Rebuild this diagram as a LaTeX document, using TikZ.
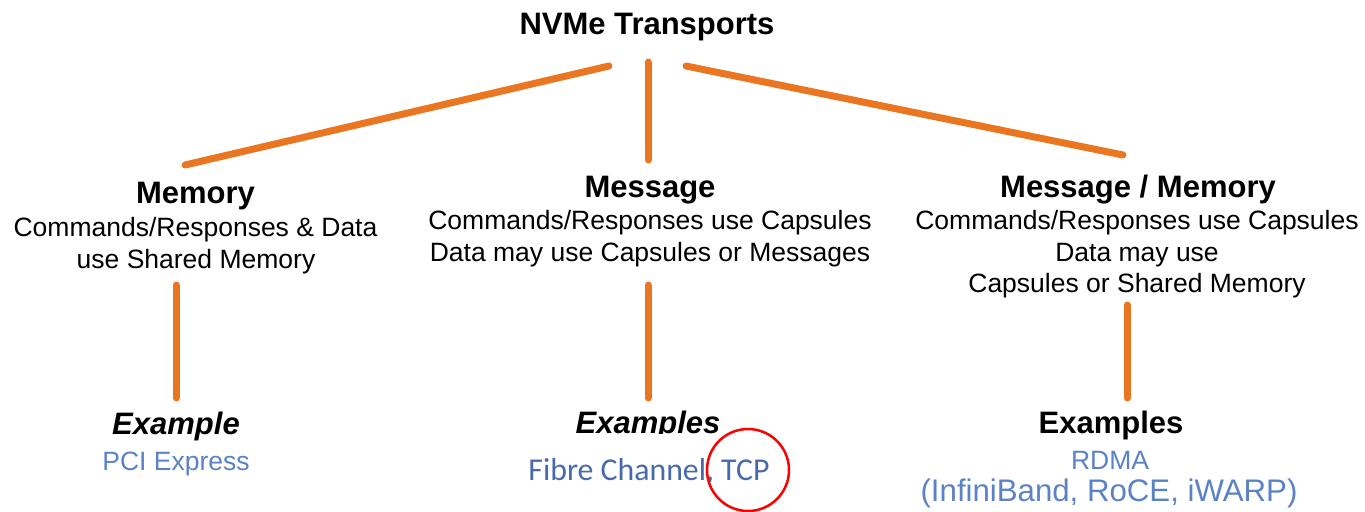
\documentclass[tikz,border=0pt]{standalone}
\usepackage{fontspec}
\setmainfont{Liberation Sans}
\newfontfamily\calib{Carlito}
\definecolor{lineorange}{RGB}{235,118,34}
\definecolor{exblue}{RGB}{91,130,196}
\definecolor{fcblue}{RGB}{72,106,172}
\begin{document}
\begin{tikzpicture}[x=0.5pt,y=-0.5pt,
  every node/.style={inner sep=0pt,anchor=base},
  head/.style={font=\fontsize{15.5pt}{18pt}\selectfont\bfseries},
  body/.style={font=\fontsize{13.25pt}{16pt}\selectfont},
  exhead/.style={font=\fontsize{15.5pt}{18pt}\selectfont\bfseries},
  exblue/.style={font=\fontsize{13.25pt}{16pt}\selectfont,text=exblue},
  conn/.style={draw=lineorange,line width=3.5pt,line cap=round}]
\useasboundingbox (0,0) rectangle (1365,511);

% title
\node[head] (title) at (647,34) {NVMe Transports};

% level 2
\node[head] (memh) at (195.5,203) {Memory};
\node[body] (mem1) at (195.5,236) {Commands/Responses \& Data};
\node[body] (mem2) at (196,268) {use Shared Memory};

\node[head] (msgh) at (650,197) {Message};
\node[body] (msg1) at (650,229) {Commands/Responses use Capsules};
\node[body] (msg2) at (650,261) {Data may use Capsules or Messages};

\node[head] (mmh) at (1138,197) {Message / Memory};
\node[body] (mm1) at (1137,229) {Commands/Responses use Capsules};
\node[body] (mm2) at (1137,261) {Data may use};
\node[body] (mm3) at (1137,292) {Capsules or Shared Memory};

% level 3
\node[exhead,font=\fontsize{15.5pt}{18pt}\selectfont\bfseries\itshape] (exL) at (176,434) {Example};
\node[exblue] (pci) at (176,470) {PCI Express};

\node[exhead,font=\fontsize{15.5pt}{18pt}\selectfont\bfseries\itshape] (exM) at (648,433) {Examples};
\fill[white] (560,434) rectangle (740,448);
\node[font=\fontsize{15.9pt}{18pt}\calib,text=fcblue] (fc) at (649,480) {Fibre Channel, TCP};

\node[exhead] (exR) at (1111,433) {Examples};
\node[exblue] (rdma) at (1110,469) {RDMA};
\node[font=\fontsize{15.6pt}{18pt}\selectfont,text=exblue] (ib) at (1109,501) {(InfiniBand, RoCE, iWARP)};

% connector end points
\coordinate (tL) at (609,66);
\coordinate (tM) at (648,62);
\coordinate (tR) at (686,66);
\coordinate (memTop) at (185,165);
\coordinate (msgTop) at (648,160);
\coordinate (mmTop) at (1123,155);
\coordinate (memBot) at (176,285);
\coordinate (msgBot) at (648,285);
\coordinate (mmBot) at (1127,305);
\coordinate (exLTop) at (176,398);
\coordinate (exMTop) at (648,398);
\coordinate (exRTop) at (1127,398);

\draw[conn] (tL) -- (memTop);
\draw[conn] (tM) -- (msgTop);
\draw[conn] (tR) -- (mmTop);
\draw[conn] (memBot) -- (exLTop);
\draw[conn] (msgBot) -- (exMTop);
\draw[conn] (mmBot) -- (exRTop);

% red highlight circle
\node[draw=red,line width=1.25pt,circle,minimum size=41pt,anchor=center] (hl) at (748,470) {};
\end{tikzpicture}
\end{document}
